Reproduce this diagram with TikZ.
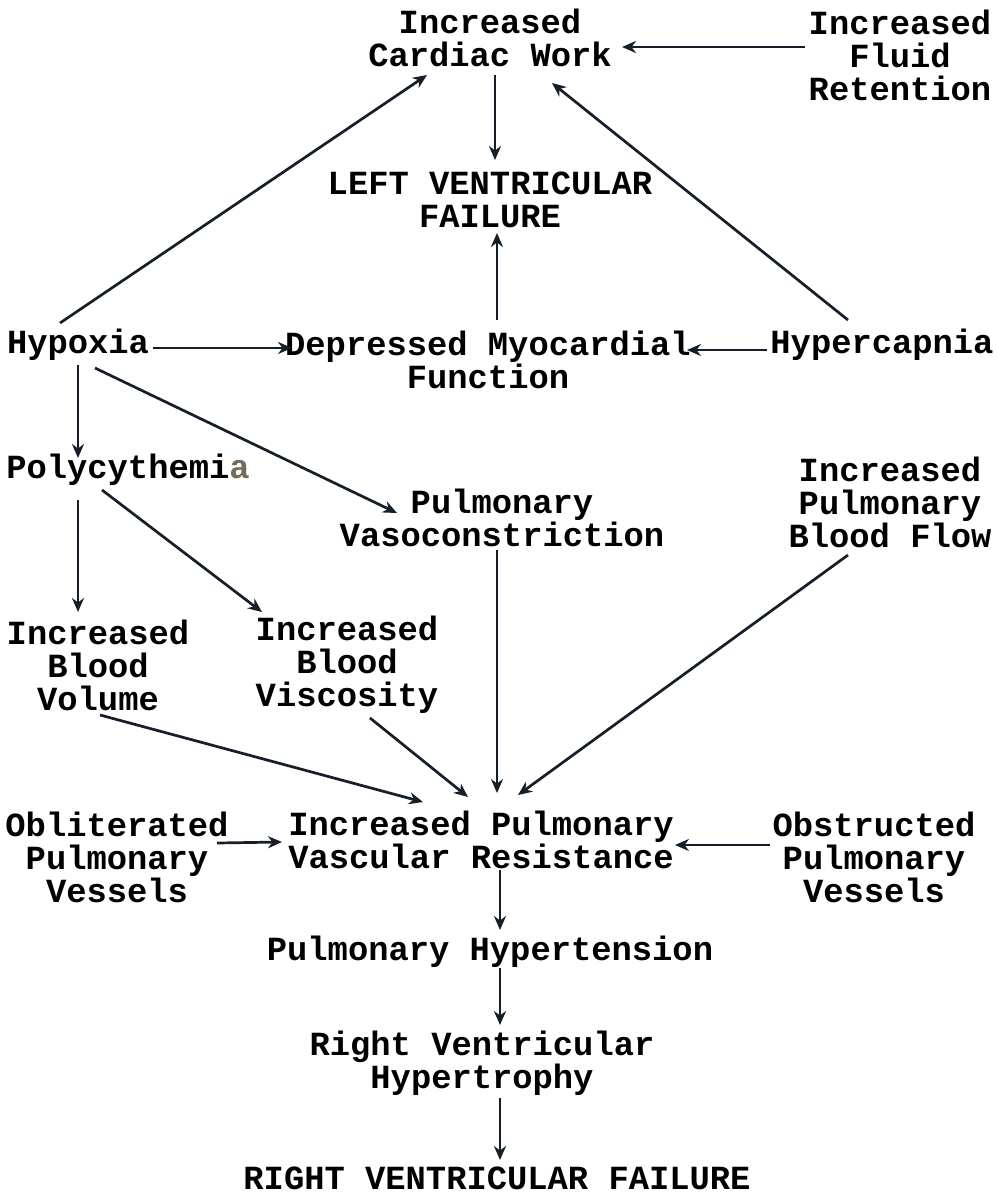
\documentclass[tikz,border=0pt]{standalone}
\usepackage{fontspec}
\setmonofont{Liberation Mono}
\usetikzlibrary{arrows.meta,calc}
\definecolor{ink}{RGB}{22,30,42}
\definecolor{pale}{RGB}{120,105,90}
\begin{document}
\begin{tikzpicture}[x=0.5pt,y=-0.5pt,
  lbl/.style={inner sep=0pt,align=center,font=\ttfamily\bfseries\fontsize{16.9}{16.5}\selectfont,text=black},
  arr/.style={draw=ink,line width=1.35pt,-{Stealth[length=7pt,width=6pt]}}]
\useasboundingbox (0,0) rectangle (997,1195);
\fill[white] (0,0) rectangle (997,1195);
\node[lbl] (cw) at (490,38) {Increased\\Cardiac Work};
\node[lbl] (fr) at (900,55) {Increased\\Fluid\\Retention};
\node[lbl] (lvf) at (490,200) {LEFT VENTRICULAR\\FAILURE};
\node[lbl] (hyp) at (78,345) {Hypoxia};
\node[lbl] (dmf) at (488,360) {Depressed Myocardial\\Function};
\node[lbl] (hc) at (882,345) {Hypercapnia};
\node[lbl] (poly) at (128,470) {Polycythemi{\color{pale}a}};
\node[lbl] (pv) at (502,518) {Pulmonary\\Vasoconstriction};
\node[lbl] (pbf) at (890,502) {Increased\\Pulmonary\\Blood Flow};
\node[lbl] (ibv) at (98,665) {Increased\\Blood\\Volume};
\node[lbl] (bvis) at (347,665) {Increased\\Blood\\Viscosity};
\node[lbl] (opv) at (117,857) {Obliterated\\Pulmonary\\Vessels};
\node[lbl] (ipvr) at (481,840) {Increased Pulmonary\\Vascular Resistance};
\node[lbl] (obpv) at (874,857) {Obstructed\\Pulmonary\\Vessels};
\node[lbl] (ph) at (490,952) {Pulmonary Hypertension};
\node[lbl] (rvh) at (482,1063) {Right Ventricular\\Hypertrophy};
\node[lbl] (rvf) at (497,1178) {RIGHT VENTRICULAR FAILURE};
% connectors
\draw[arr] ($(fr)+(-95,-8)$) -- ($(cw)+(132,9)$);
\draw[arr] ($(cw)+(5,37)$) -- ($(lvf)+(5,-40)$);
\draw[arr] ($(dmf)+(9,-40)$) -- ($(lvf)+(7,33)$);
\draw[arr] ($(hyp)+(-18,-22)$) -- ($(cw)+(-63,37)$);
\draw[arr] ($(hc)+(-34,-25)$) -- ($(cw)+(62,45)$);
\draw[arr] ($(hyp)+(75,3)$) -- ($(dmf)+(-196,-12)$);
\draw[arr] ($(hc)+(-115,5)$) -- ($(dmf)+(199,-10)$);
\draw[arr] ($(hyp)+(0,20)$) -- ($(poly)+(-50,-12)$);
\draw[arr] ($(hyp)+(17,23)$) -- ($(pv)+(-105,-5)$);
\draw[arr] ($(poly)+(-50,30)$) -- ($(ibv)+(-20,-53)$);
\draw[arr] ($(poly)+(-26,20)$) -- ($(bvis)+(-85,-53)$);
\draw[arr] ($(ibv)+(2,50)$) -- ($(ipvr)+(-58,-38)$);
\draw[arr] ($(bvis)+(23,53)$) -- ($(ipvr)+(-13,-43)$);
\draw[arr] ($(pv)+(-5,32)$) -- ($(ipvr)+(16,-47)$);
\draw[arr] ($(pbf)+(-42,53)$) -- ($(ipvr)+(37,-45)$);
\draw[arr] ($(opv)+(100,-14)$) -- ($(ipvr)+(-199,2)$);
\draw[arr] ($(obpv)+(-104,-12)$) -- ($(ipvr)+(194,5)$);
\draw[arr] ($(ipvr)+(19,30)$) -- ($(ph)+(10,-22)$);
\draw[arr] ($(ph)+(10,16)$) -- ($(rvh)+(18,-38)$);
\draw[arr] ($(rvh)+(18,35)$) -- ($(rvf)+(3,-18)$);
\end{tikzpicture}
\end{document}
